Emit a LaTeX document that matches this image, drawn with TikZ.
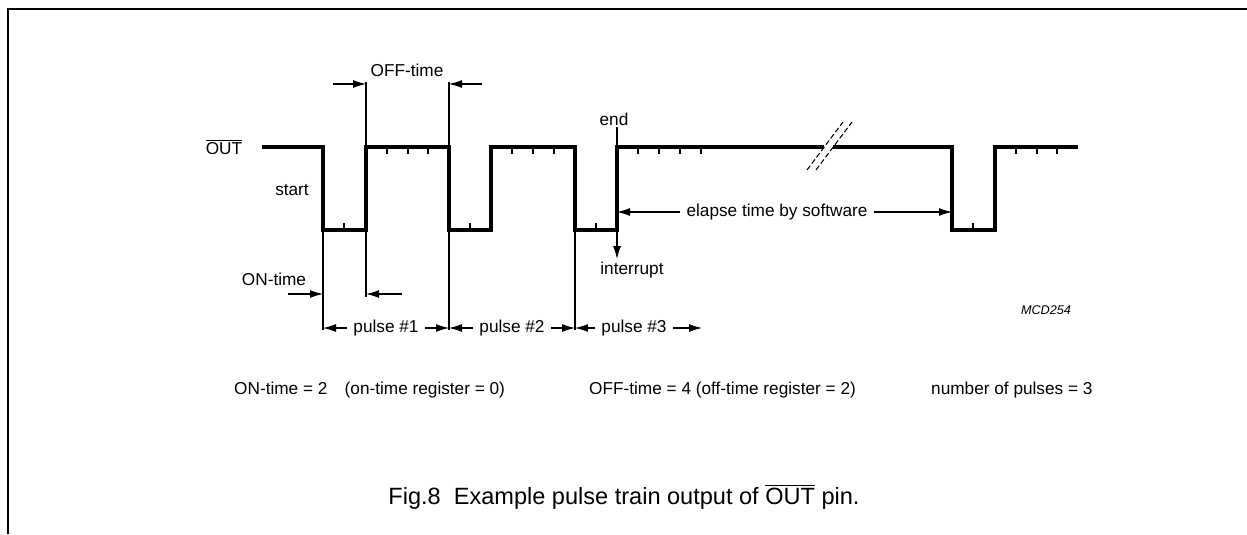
\documentclass[tikz,border=0pt]{standalone}
\usepackage{fontspec}
\setmainfont{Liberation Sans}
\usetikzlibrary{arrows.meta}
\tikzset{
  wave/.style={line width=1.9pt, line join=miter},
  dimline/.style={line width=0.6pt},
  tickmark/.style={line width=0.6pt},
  frameline/.style={line width=1.2pt},
}

\begin{document}
\begin{tikzpicture}[x=0.02cm,y=-0.02cm,
  >={Latex[length=2.6mm,width=1.6mm]},
  font=\fontsize{9.8}{12}\selectfont]
\useasboundingbox (0,0) rectangle (1247,534);

% frame
\draw[frameline] (8,534) -- (8,9) -- (1247,9);

% pulse train
\draw[wave] (262,147) -- (323,147) -- (323,230) -- (366,230) -- (366,147)
  -- (449,147) -- (449,230) -- (491,230) -- (491,147) -- (575,147)
  -- (575,230) -- (617,230) -- (617,147) -- (824,147);
\draw[wave] (833,147) -- (952,147) -- (952,230) -- (995,230) -- (995,147)
  -- (1078,147);
\foreach \x in {387,408,428,512,533,554,638,659,680,701,1016,1037,1057}
  \draw[tickmark] (\x,147) -- ++(0,7);
\foreach \x in {344,470,596,973}
  \draw[tickmark] (\x,230) -- ++(0,-7);

% break marks
\draw[dimline, dash pattern=on 3pt off 1.5pt] (807,170) -- (843,122);
\draw[dimline, dash pattern=on 3pt off 1.5pt] (816,170) -- (852,122);

% labels
\node (out) at (224,147) {$\overline{\mbox{OUT}}$};
\node (start) at (292,190) {start};
\node (offtime) at (407,70) {OFF-time};
\node (ontime) at (274,279) {ON-time};
\node (end) at (614,119) {end};
\node (intr) at (632,270) {interrupt};
\node (elapse) at (777,212) {elapse time by software};
\node (p1) at (386,328) {pulse \#1};
\node (p2) at (512,328) {pulse \#2};
\node (p3) at (634,328) {pulse \#3};
\node (mcd) at (1046,310) {\fontsize{7.2}{9}\selectfont\itshape MCD254};
\node[anchor=west] (eqon) at (228,390) {ON-time = 2\quad (on-time register = 0)};
\node[anchor=west] (eqoff) at (583,390) {OFF-time = 4 (off-time register = 2)};
\node[anchor=west] (eqnum) at (925,390) {number of pulses = 3};
\node (cap) at (624,497) {\fontsize{13.4}{16}\selectfont Fig.8\ \ Example pulse train output of $\overline{\mbox{OUT}}$ pin.};

% reference points
\coordinate (a1) at (323,330);
\coordinate (a2) at (366,297);
\coordinate (a3) at (449,330);
\coordinate (a4) at (575,330);
\coordinate (b1) at (366,82);
\coordinate (b2) at (449,82);
\coordinate (e1) at (617,127);
\coordinate (hi1) at (366,147);
\coordinate (hi2) at (449,147);
\coordinate (hi3) at (617,147);
\coordinate (lo1) at (323,230);
\coordinate (lo2) at (366,230);
\coordinate (lo3) at (449,230);
\coordinate (lo4) at (575,230);
\coordinate (lo5) at (617,230);
\coordinate (intrend) at (617,259);
\coordinate (w1) at (617,212);
\coordinate (w2) at (952,212);
\coordinate (q1) at (323,328);
\coordinate (q2) at (449,328);
\coordinate (q3) at (575,328);
\coordinate (q4) at (702,328);
\coordinate (on1) at (288,294);
\coordinate (on2) at (323,294);
\coordinate (on3) at (402,294);
\coordinate (on4) at (366,294);
\coordinate (of1) at (333,84);
\coordinate (of2) at (366,84);
\coordinate (of3) at (482,84);
\coordinate (of4) at (449,84);

% extension lines
\draw[dimline] (b1) -- (hi1);
\draw[dimline] (b2) -- (hi2);
\draw[dimline] (e1) -- (hi3);
\draw[dimline] (lo1) -- (a1);
\draw[dimline] (lo2) -- (a2);
\draw[dimline] (lo3) -- (a3);
\draw[dimline] (lo4) -- (a4);

% dimension arrows
\draw[->, dimline] (of1) -- (of2);
\draw[->, dimline] (of3) -- (of4);
\draw[->, dimline] (on1) -- (on2);
\draw[->, dimline] (on3) -- (on4);
\draw[->, dimline] (lo5) -- (intrend);
\draw[->, dimline] (elapse) -- (w1);
\draw[->, dimline] (elapse) -- (w2);
\draw[->, dimline] (p1) -- (q1);
\draw[->, dimline] (p1) -- (q2);
\draw[->, dimline] (p2) -- (q2);
\draw[->, dimline] (p2) -- (q3);
\draw[->, dimline] (p3) -- (q3);
\draw[->, dimline] (p3) -- (q4);
\end{tikzpicture}
\end{document}
